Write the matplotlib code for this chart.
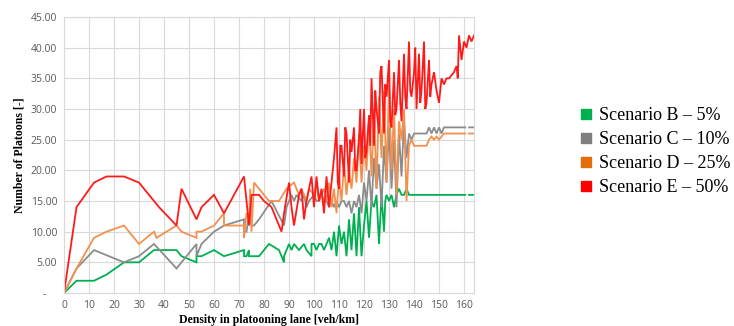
import matplotlib
matplotlib.use("Agg")
import matplotlib.pyplot as plt
from matplotlib.lines import Line2D
from matplotlib.ticker import FuncFormatter
import numpy as np

nan = np.nan

# Scenario B - 5 %
dens_b = [0, 5, 12, 17, 24, 30, 36, 45, 47, 53, 53, 55, 60, 64, 72, 72, 73, 74, 74, 78,
          82, 86, 88, 88, 90, 91, 92, 94, 96, 97, 99, 99, 100, 101, 102, 103, 104, 105,
          106, 107, 108, 109, 110, 111, 112, 113, 114, 115, 116, 117, 118, 119, 120, 121,
          122, 123, 124, 125, 126, 127, 128, 128.5, 129, 130, 131, 132, 133, 134, 135, 136,
          137, 138, 139, 140, 160.5, 161, 162, 164]
plat_b = [0, 2, 2, 3, 5, 5, 7, 7, 6, 5, 6, 6, 7, 6, 7, 6, 6, 7, 6, 6,
          8, 7, 5, 6, 8, 7, 8, 7, 8, 7, 6, 8, 8, 7, 8, 8, 7, 8,
          9, 7, 10, 6, 11, 8, 10, 6, 12, 7, 13, 6, 14, 6, 11, 15,
          9, 15, 14, 16, 8, 16, 10, 15, 16, 15, 16, 14, 16, 17, 16, 16,
          17, 16, 16, 16, 16, nan, 16, 16]

# Scenario C - 10 %
dens_c = [0, 5, 12, 24, 30, 36, 45, 53, 53, 55, 60, 64, 72, 72, 73, 74, 75, 76, 78, 83,
          88, 89, 91, 92, 93, 95, 96, 97, 98, 100, 101, 102, 103, 104, 105, 106, 107, 108,
          109, 110, 111, 112, 113, 114, 115, 116, 117, 118, 119, 120, 121, 122, 123, 124,
          125, 126, 127, 128, 129, 130, 131, 132, 133, 134, 135, 136, 137, 138, 139, 140,
          145, 146, 147, 148, 149, 150, 151, 152, 153, 160.5, 161, 162, 164]
plat_c = [0, 4, 7, 5, 6, 8, 4, 8, 6, 8, 10, 11, 12, 10, 10, 13, 11, 11, 12, 15,
          11, 14, 16, 15, 16, 15, 16, 14, 15, 16, 15, 15, 16, 15, 15, 14, 15, 14,
          15, 14, 15, 15, 14, 15, 13, 15, 14, 16, 13, 18, 15, 20, 14, 22,
          17, 21, 14, 24, 18, 27, 17, 25, 14, 26, 19, 28, 22, 26, 25, 26,
          26, 27, 26, 27, 26, 27, 26, 27, 27, 27, nan, 27, 27]

# Scenario D - 25 %
dens_d = [0, 5, 12, 17, 24, 30, 36, 37, 45, 47, 53, 53, 55, 60, 64, 64, 72, 72, 73, 74,
          74.5, 75, 76, 82, 86, 89, 92, 94, 95, 97, 98, 100, 101, 102, 103, 104, 105, 106,
          107, 108, 109, 110, 111, 112, 113, 114, 115, 116, 117, 118, 119, 120, 121, 122,
          123, 124, 125, 126, 127, 128, 129, 130, 131, 132, 133, 134, 135, 136, 137, 138,
          139, 140, 145, 146, 147, 148, 149, 150, 151, 152, 160.5, 161, 162, 164]
plat_d = [0, 4, 9, 10, 11, 8, 10, 9, 11, 10, 9, 10, 10, 11, 13, 11, 11, 9, 13, 12,
          17, 10, 18, 15, 15, 17, 18, 16, 17, 15, 17, 16, 18, 15, 16, 17, 15, 18,
          14, 17, 13, 19, 15, 21, 16, 20, 17, 22, 18, 26, 18, 24, 20, 28,
          19, 30, 17, 32, 22, 33, 18, 34, 20, 30, 16, 28, 25, 30, 15, 24,
          25, 24, 24, 25, 25.5, 25, 25.5, 25, 25.5, 26, 26, nan, 26, 26]

# Scenario E - 50 %
dens_e = [0, 5, 12, 17, 24, 30, 34, 36, 38, 45, 47, 53, 55, 60, 64, 72, 73, 74, 75, 76,
          78, 80, 83, 85, 87, 88, 90, 91, 92, 94, 95, 96, 97, 99, 100, 101, 102, 103,
          104, 105, 106, 107, 108, 109, 109.5, 110, 110.5, 111, 112, 112.5, 113, 114,
          114.5, 115, 116, 116.5, 117, 118, 118.5, 119, 120, 120.5, 121, 122, 122.5, 123,
          124, 124.5, 125, 126, 126.5, 127, 128, 128.5, 129, 130, 130.5, 131, 132, 132.5,
          133, 134, 134.5, 135, 136, 136.5, 137, 138, 138.5, 139, 140, 140.5, 141, 142,
          142.5, 143, 144, 144.5, 145, 146, 146.5, 147, 148, 149, 150, 151, 152, 153, 154,
          155, 156, 157, 157.5, 158, 159, 160, 161, 162, 163, 164]
plat_e = [0, 14, 18, 19, 19, 18, 16, 15, 14, 11, 17, 12, 14, 16, 13, 19, 15, 11, 16, 16,
          16, 15, 14, 12, 10, 13, 18, 14, 11, 16, 17, 12, 15, 19, 14, 19, 15, 17,
          13, 19, 14, 18, 22, 27, 18, 17, 24, 24, 19, 27, 26, 18,
          25, 23, 27, 20, 20, 25, 30, 21, 30, 22, 23, 29, 24, 35,
          24, 33, 30, 26, 36, 37, 26, 34, 32, 38, 28, 27, 36, 29,
          30, 38, 31, 28, 39, 32, 30, 41, 33, 32, 36, 40, 30, 39,
          31, 33, 41, 30, 31, 38, 32, 34, 36, 33, 31, 35, 34, 35, 35,
          35.5, 36, 37, 35, 42, 38, 41, 40, 42, 41, 42]

series = [
    ("Scenario B \u2013 5%", dens_b, plat_b, "#00B050", "#00B050"),
    ("Scenario C \u2013 10%", dens_c, plat_c, "#8C8C8C", "#7F7F7F"),
    ("Scenario D \u2013 25%", dens_d, plat_d, "#F2914F", "#E46C0A"),
    ("Scenario E \u2013 50%", dens_e, plat_e, "#FF1A1A", "#FF0000"),
]

fig = plt.figure(figsize=(7.34, 3.26), dpi=100)
ax = fig.add_axes([0.0872, 0.1012, 0.5586, 0.8467])

for name, x, y, line_col, _ in series:
    ax.plot(x, y, color=line_col, lw=1.3, solid_joinstyle="miter")

ax.set_xlim(0, 164)
ax.set_ylim(0, 45)
ax.set_xticks(range(0, 161, 10))
ax.set_yticks(range(0, 46, 5))
ax.yaxis.set_major_formatter(
    FuncFormatter(lambda v, p: "-    " if v == 0 else f"{v:.2f}"))
ax.grid(True, color="#D9D9D9", lw=0.8)
ax.set_axisbelow(True)
for s in ax.spines.values():
    s.set_color("#D9D9D9")
    s.set_linewidth(0.8)
ax.tick_params(length=0, labelsize=7.5, labelcolor="#595959", pad=5)
for lab in ax.get_xticklabels() + ax.get_yticklabels():
    lab.set_fontfamily("Open Sans")

ax.set_xlabel("Density in platooning lane [veh/km]", family="Liberation Serif",
              weight="bold", fontsize=8.5, labelpad=2)
ax.set_ylabel("Number of Platoons [-]", family="Liberation Serif",
              weight="bold", fontsize=8.5, labelpad=4)

handles = [Line2D([], [], ls="none", marker="s", markersize=7, color=c[4])
           for c in series]
fig.legend(handles, [c[0] for c in series], loc="center left",
           bbox_to_anchor=(0.766, 0.535), frameon=False, handletextpad=0.35,
           handlelength=0.8, labelspacing=0.38,
           prop={"family": "Liberation Serif", "size": 13})

fig.savefig("out.png", dpi=100)
